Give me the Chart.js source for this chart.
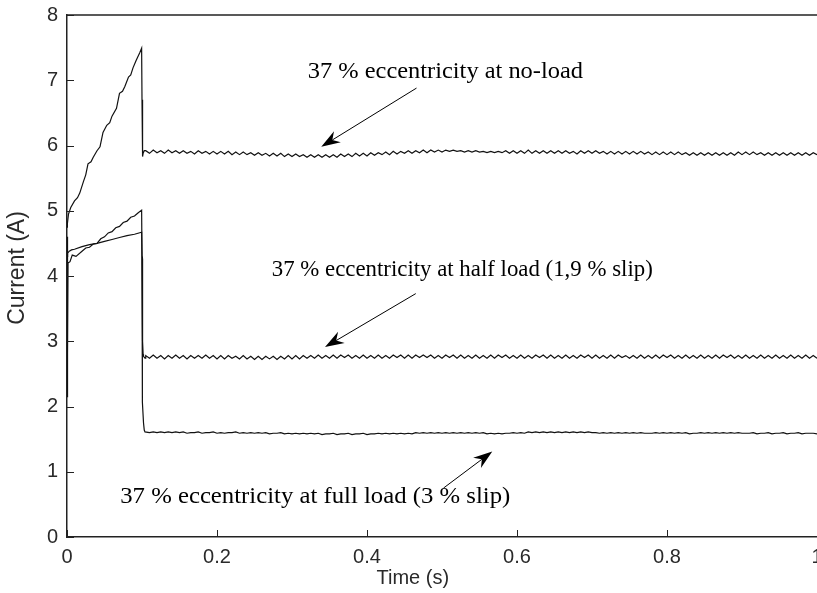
<!DOCTYPE html>
<html>
<head>
<meta charset="utf-8">
<script src="https://cdn.jsdelivr.net/npm/chart.js@4.4.0/dist/chart.umd.min.js"></script>
<style>
  html, body { margin: 0; padding: 0; background: #fff; overflow: hidden; }
</style>
</head>
<body>
<canvas id="currentChart" width="817" height="593"></canvas>
<script>
// tick values
const xTicks = [0, 0.2, 0.4, 0.6, 0.8, 1];
const yTicks = [0, 1, 2, 3, 4, 5, 6, 7, 8];

// start-up part (0 .. ~0.104 s), each curve has its own time points
const startNoLoadT = [0, 0.0005, 0.002, 0.005, 0.01, 0.014, 0.017, 0.022, 0.025, 0.028, 0.032, 0.035, 0.04, 0.044, 0.048, 0.053, 0.057, 0.06, 0.066, 0.07, 0.074, 0.077, 0.082, 0.085, 0.088, 0.092, 0.094, 0.097, 0.0995, 0.1, 0.1005, 0.101, 0.1015, 0.103];
const startNoLoad  = [4.75, 4.8, 4.95, 5.05, 5.15, 5.2, 5.27, 5.45, 5.55, 5.72, 5.75, 5.82, 5.92, 5.98, 6.2, 6.31, 6.35, 6.45, 6.57, 6.8, 6.83, 6.9, 7.05, 7.08, 7.19, 7.3, 7.35, 7.42, 7.49, 6.7, 6.2, 5.83, 5.88, 5.92];

const startHalfT = [0, 0.0008, 0.003, 0.006, 0.01, 0.02, 0.03, 0.04, 0.05, 0.06, 0.07, 0.08, 0.09, 0.0995, 0.1, 0.1003, 0.1006, 0.1009, 0.1012, 0.1015, 0.102, 0.104];
const startHalf  = [4.3, 4.35, 4.38, 4.4, 4.41, 4.45, 4.48, 4.5, 4.53, 4.56, 4.59, 4.62, 4.64, 4.67, 4.27, 3.65, 4.2, 3.7, 3.0, 2.8, 2.77, 2.74];

const startFullT = [0, 0.0002, 0.0004, 0.0006, 0.0008, 0.001, 0.0012, 0.0014, 0.004, 0.007, 0.012, 0.02, 0.025, 0.03, 0.035, 0.04, 0.045, 0.05, 0.055, 0.06, 0.065, 0.07, 0.075, 0.08, 0.085, 0.09, 0.095, 0.0995, 0.1, 0.1005, 0.102, 0.103, 0.104];
const startFull  = [2.15, 4.6, 2.3, 4.5, 2.5, 4.3, 2.8, 4.2, 4.22, 4.32, 4.3, 4.38, 4.43, 4.44, 4.49, 4.5, 4.57, 4.6, 4.66, 4.68, 4.74, 4.76, 4.82, 4.84, 4.9, 4.92, 4.97, 5.01, 4.3, 2.07, 1.75, 1.64, 1.61];

// steady part, shared time points (0.105 .. 1.0 s)
const steadyT = [
  0.105, 0.11, 0.115, 0.12, 0.125, 0.13, 0.135, 0.14, 0.145, 0.15,
  0.155, 0.16, 0.165, 0.17, 0.175, 0.18, 0.185, 0.19, 0.195, 0.2,
  0.205, 0.21, 0.215, 0.22, 0.225, 0.23, 0.235, 0.24, 0.245, 0.25,
  0.255, 0.26, 0.265, 0.27, 0.275, 0.28, 0.285, 0.29, 0.295, 0.3,
  0.305, 0.31, 0.315, 0.32, 0.325, 0.33, 0.335, 0.34, 0.345, 0.35,
  0.355, 0.36, 0.365, 0.37, 0.375, 0.38, 0.385, 0.39, 0.395, 0.4,
  0.405, 0.41, 0.415, 0.42, 0.425, 0.43, 0.435, 0.44, 0.445, 0.45,
  0.455, 0.46, 0.465, 0.47, 0.475, 0.48, 0.485, 0.49, 0.495, 0.5,
  0.505, 0.51, 0.515, 0.52, 0.525, 0.53, 0.535, 0.54, 0.545, 0.55,
  0.555, 0.56, 0.565, 0.57, 0.575, 0.58, 0.585, 0.59, 0.595, 0.6,
  0.605, 0.61, 0.615, 0.62, 0.625, 0.63, 0.635, 0.64, 0.645, 0.65,
  0.655, 0.66, 0.665, 0.67, 0.675, 0.68, 0.685, 0.69, 0.695, 0.7,
  0.705, 0.71, 0.715, 0.72, 0.725, 0.73, 0.735, 0.74, 0.745, 0.75,
  0.755, 0.76, 0.765, 0.77, 0.775, 0.78, 0.785, 0.79, 0.795, 0.8,
  0.805, 0.81, 0.815, 0.82, 0.825, 0.83, 0.835, 0.84, 0.845, 0.85,
  0.855, 0.86, 0.865, 0.87, 0.875, 0.88, 0.885, 0.89, 0.895, 0.9,
  0.905, 0.91, 0.915, 0.92, 0.925, 0.93, 0.935, 0.94, 0.945, 0.95,
  0.955, 0.96, 0.965, 0.97, 0.975, 0.98, 0.985, 0.99, 0.995, 1.0
];

const steadyNoLoad = [
  5.92, 5.88, 5.93, 5.89, 5.92, 5.88, 5.93, 5.89, 5.92, 5.88,
  5.92, 5.88, 5.91, 5.87, 5.92, 5.88, 5.91, 5.87, 5.91, 5.87,
  5.91, 5.87, 5.91, 5.86, 5.90, 5.86, 5.90, 5.86, 5.89, 5.85,
  5.89, 5.85, 5.88, 5.84, 5.88, 5.84, 5.88, 5.83, 5.87, 5.83,
  5.87, 5.83, 5.86, 5.82, 5.86, 5.82, 5.86, 5.82, 5.86, 5.82,
  5.86, 5.82, 5.87, 5.83, 5.87, 5.83, 5.88, 5.84, 5.88, 5.84,
  5.89, 5.85, 5.89, 5.86, 5.90, 5.86, 5.91, 5.87, 5.91, 5.88,
  5.92, 5.88, 5.92, 5.89, 5.93, 5.89, 5.93, 5.90, 5.93, 5.90,
  5.93, 5.91, 5.93, 5.91, 5.92, 5.90, 5.92, 5.90, 5.92, 5.90,
  5.91, 5.89, 5.91, 5.89, 5.91, 5.89, 5.92, 5.88, 5.92, 5.88,
  5.92, 5.88, 5.93, 5.88, 5.92, 5.88, 5.92, 5.88, 5.92, 5.88,
  5.92, 5.88, 5.92, 5.88, 5.91, 5.87, 5.92, 5.88, 5.92, 5.88,
  5.92, 5.88, 5.91, 5.87, 5.91, 5.87, 5.91, 5.87, 5.91, 5.87,
  5.91, 5.87, 5.91, 5.87, 5.90, 5.86, 5.90, 5.86, 5.90, 5.86,
  5.90, 5.86, 5.90, 5.86, 5.89, 5.85, 5.89, 5.85, 5.89, 5.85,
  5.89, 5.85, 5.89, 5.85, 5.89, 5.85, 5.89, 5.85, 5.90, 5.86,
  5.90, 5.86, 5.90, 5.86, 5.89, 5.85, 5.89, 5.85, 5.89, 5.85,
  5.89, 5.85, 5.89, 5.85, 5.89, 5.85, 5.89, 5.85, 5.89, 5.86
];

const steadyHalf = [
  2.78, 2.74, 2.79, 2.74, 2.78, 2.73, 2.78, 2.74, 2.79, 2.74,
  2.78, 2.73, 2.78, 2.74, 2.78, 2.74, 2.79, 2.74, 2.78, 2.73,
  2.78, 2.73, 2.78, 2.74, 2.77, 2.73, 2.78, 2.73, 2.77, 2.72,
  2.77, 2.72, 2.77, 2.73, 2.77, 2.72, 2.77, 2.73, 2.78, 2.73,
  2.78, 2.73, 2.78, 2.74, 2.78, 2.74, 2.79, 2.74, 2.78, 2.74,
  2.79, 2.74, 2.79, 2.75, 2.79, 2.74, 2.78, 2.74, 2.79, 2.74,
  2.78, 2.74, 2.79, 2.74, 2.78, 2.74, 2.79, 2.75, 2.79, 2.74,
  2.79, 2.74, 2.79, 2.75, 2.79, 2.75, 2.79, 2.74, 2.78, 2.74,
  2.79, 2.75, 2.79, 2.74, 2.79, 2.74, 2.78, 2.74, 2.79, 2.74,
  2.78, 2.74, 2.79, 2.74, 2.79, 2.75, 2.79, 2.74, 2.78, 2.74,
  2.79, 2.74, 2.78, 2.74, 2.79, 2.75, 2.79, 2.74, 2.79, 2.74,
  2.78, 2.74, 2.79, 2.74, 2.78, 2.74, 2.79, 2.75, 2.79, 2.74,
  2.79, 2.74, 2.78, 2.74, 2.79, 2.74, 2.79, 2.75, 2.78, 2.74,
  2.78, 2.74, 2.79, 2.74, 2.78, 2.74, 2.79, 2.74, 2.79, 2.75,
  2.79, 2.74, 2.78, 2.74, 2.79, 2.74, 2.78, 2.74, 2.79, 2.74,
  2.78, 2.74, 2.79, 2.74, 2.79, 2.75, 2.79, 2.74, 2.78, 2.74,
  2.79, 2.74, 2.78, 2.74, 2.79, 2.74, 2.78, 2.74, 2.79, 2.74,
  2.78, 2.74, 2.79, 2.74, 2.78, 2.74, 2.79, 2.74, 2.78, 2.74
];

const steadyFull = [
  1.61, 1.60, 1.61, 1.60, 1.61, 1.60, 1.61, 1.60, 1.61, 1.60,
  1.61, 1.59, 1.60, 1.60, 1.61, 1.59, 1.60, 1.60, 1.61, 1.59,
  1.60, 1.59, 1.60, 1.60, 1.61, 1.59, 1.60, 1.59, 1.60, 1.59,
  1.60, 1.59, 1.60, 1.58, 1.59, 1.59, 1.60, 1.58, 1.59, 1.58,
  1.59, 1.58, 1.59, 1.58, 1.59, 1.58, 1.59, 1.57, 1.58, 1.58,
  1.59, 1.57, 1.58, 1.58, 1.59, 1.57, 1.58, 1.58, 1.59, 1.57,
  1.58, 1.58, 1.59, 1.58, 1.59, 1.58, 1.59, 1.58, 1.59, 1.58,
  1.59, 1.58, 1.60, 1.59, 1.60, 1.59, 1.60, 1.59, 1.60, 1.59,
  1.60, 1.59, 1.60, 1.59, 1.60, 1.59, 1.60, 1.59, 1.60, 1.59,
  1.60, 1.58, 1.59, 1.58, 1.59, 1.58, 1.59, 1.59, 1.60, 1.59,
  1.60, 1.59, 1.61, 1.60, 1.61, 1.60, 1.61, 1.60, 1.61, 1.60,
  1.61, 1.60, 1.61, 1.60, 1.61, 1.60, 1.61, 1.60, 1.61, 1.60,
  1.60, 1.59, 1.60, 1.59, 1.60, 1.59, 1.60, 1.59, 1.60, 1.59,
  1.60, 1.59, 1.60, 1.59, 1.59, 1.59, 1.60, 1.59, 1.60, 1.59,
  1.60, 1.59, 1.60, 1.59, 1.60, 1.58, 1.59, 1.59, 1.60, 1.59,
  1.60, 1.59, 1.60, 1.59, 1.60, 1.59, 1.60, 1.59, 1.60, 1.59,
  1.59, 1.59, 1.60, 1.58, 1.59, 1.59, 1.60, 1.58, 1.59, 1.59,
  1.60, 1.58, 1.59, 1.59, 1.60, 1.58, 1.59, 1.59, 1.59, 1.58
];

// annotations (data units): text left/middle, text span along x, arrow tail, arrow tip
const noteTexts = [
  '37 % eccentricity at no-load',
  '37 % eccentricity at half load (1,9 % slip)',
  '37 % eccentricity at full load (3 % slip)'
];
const noteAt    = [[0.321, 7.13], [0.273, 4.09], [0.071, 0.62]];
const noteSpan  = [0.367, 0.508, 0.52];
const arrowFrom = [[0.466, 6.88], [0.465, 3.73], [0.502, 0.75]];
const arrowTo   = [[0.339, 5.98], [0.344, 2.91], [0.567, 1.31]];

function toPoints(t1, v1, t2, v2) {
    const a = t1.map((t, i) => ({ x: t, y: v1[i] }));
    const b = t2.map((t, i) => ({ x: t, y: v2[i] }));
    return a.concat(b);
}

const lineStyle = {
    showLine: true,
    borderColor: '#111',
    borderWidth: 1.2,
    pointRadius: 0,
    fill: false,
    tension: 0
};

// frame, inward ticks, axis titles and the arrows with their texts
const decorPlugin = {
    id: 'decor',
    afterDraw(chart) {
        const { ctx, chartArea: a, scales: { x, y } } = chart;
        ctx.save();
        ctx.strokeStyle = '#222';
        ctx.lineWidth = 1.5;
        ctx.beginPath();
        ctx.moveTo(a.left, a.top);
        ctx.lineTo(a.right, a.top);
        ctx.stroke();

        ctx.lineWidth = 1;
        ctx.beginPath();
        x.ticks.forEach(t => {
            const px = Math.round(x.getPixelForValue(t.value)) + 0.5;
            ctx.moveTo(px, a.bottom);
            ctx.lineTo(px, a.bottom - 7);
        });
        y.ticks.forEach(t => {
            const py = Math.round(y.getPixelForValue(t.value)) + 0.5;
            ctx.moveTo(a.left, py);
            ctx.lineTo(a.left + 7, py);
        });
        ctx.stroke();

        // axis titles
        ctx.fillStyle = '#2a2a2a';
        ctx.font = '20px "Liberation Sans", Arial, sans-serif';
        ctx.textAlign = 'center';
        ctx.textBaseline = 'middle';
        ctx.fillText('Time (s)', x.getPixelForValue(0.461), 578);
        ctx.save();
        ctx.translate(18, (a.top + a.bottom) / 2 - 8);
        ctx.rotate(-Math.PI / 2);
        ctx.font = '23px "Liberation Sans", Arial, sans-serif';
        ctx.fillText('Current (A)', 0, 0);
        ctx.restore();

        // notes
        ctx.fillStyle = '#000';
        ctx.strokeStyle = '#000';
        ctx.font = '23px "Liberation Serif", "Times New Roman", serif';
        ctx.textAlign = 'left';
        noteTexts.forEach((txt, i) => {
            const tx = x.getPixelForValue(noteAt[i][0]);
            const ty = y.getPixelForValue(noteAt[i][1]);
            const want = x.getPixelForValue(noteAt[i][0] + noteSpan[i]) - tx;
            const sx = want / ctx.measureText(txt).width;
            ctx.save();
            ctx.translate(tx, ty);
            ctx.scale(sx, 1);
            ctx.fillText(txt, 0, 0);
            ctx.restore();

            const x0 = x.getPixelForValue(arrowFrom[i][0]);
            const y0 = y.getPixelForValue(arrowFrom[i][1]);
            const x1 = x.getPixelForValue(arrowTo[i][0]);
            const y1 = y.getPixelForValue(arrowTo[i][1]);
            const ang = Math.atan2(y1 - y0, x1 - x0);
            const len = 19, half = 6.5, notch = 13;
            ctx.lineWidth = 1;
            ctx.beginPath();
            ctx.moveTo(x0, y0);
            ctx.lineTo(x1 - Math.cos(ang) * notch, y1 - Math.sin(ang) * notch);
            ctx.stroke();
            ctx.save();
            ctx.translate(x1, y1);
            ctx.rotate(ang);
            ctx.beginPath();
            ctx.moveTo(0, 0);
            ctx.lineTo(-len, -half);
            ctx.lineTo(-notch, 0);
            ctx.lineTo(-len, half);
            ctx.closePath();
            ctx.fill();
            ctx.restore();
        });
        ctx.restore();
    }
};

const tickFont = { family: '"Liberation Sans", Arial, sans-serif', size: 20 };

new Chart(document.getElementById('currentChart').getContext('2d'), {
    type: 'scatter',
    data: {
        datasets: [
            { label: 'no-load', data: toPoints(startNoLoadT, startNoLoad, steadyT, steadyNoLoad), ...lineStyle },
            { label: 'half load', data: toPoints(startHalfT, startHalf, steadyT, steadyHalf), ...lineStyle },
            { label: 'full load', data: toPoints(startFullT, startFull, steadyT, steadyFull), ...lineStyle }
        ]
    },
    options: {
        responsive: false,
        animation: false,
        devicePixelRatio: 1,
        layout: { padding: { top: 15, right: 0, bottom: 0, left: 0 } },
        plugins: {
            legend: { display: false },
            tooltip: { enabled: false }
        },
        scales: {
            x: {
                type: 'linear',
                min: 0,
                max: 1,
                afterBuildTicks: s => { s.ticks = xTicks.map(v => ({ value: v })); },
                afterFit: s => { s.height = 56; s.paddingLeft = 0; s.paddingRight = 0; },
                grid: { display: false, drawTicks: false },
                border: { display: true, color: '#222', width: 1.5 },
                ticks: {
                    font: tickFont,
                    color: '#2a2a2a',
                    padding: 8,
                    maxRotation: 0,
                    autoSkip: false,
                    callback: v => String(v)
                }
            },
            y: {
                type: 'linear',
                min: 0,
                max: 8,
                afterBuildTicks: s => { s.ticks = yTicks.map(v => ({ value: v })); },
                afterFit: s => { s.width = 67; s.paddingTop = 0; s.paddingBottom = 0; },
                grid: { display: false, drawTicks: false },
                border: { display: true, color: '#222', width: 1.5 },
                ticks: {
                    font: tickFont,
                    color: '#2a2a2a',
                    padding: 9,
                    callback: v => String(v)
                }
            }
        }
    },
    plugins: [decorPlugin]
});
</script>
</body>
</html>
